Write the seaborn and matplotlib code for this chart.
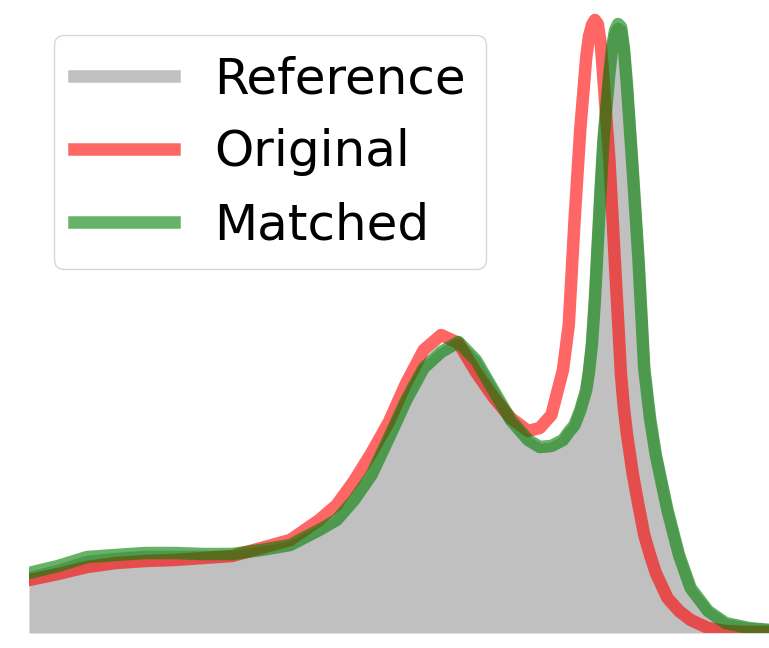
import numpy as np
import pandas as pd
import matplotlib
matplotlib.use("Agg")
import matplotlib.pyplot as plt
import seaborn as sns

# intensity bins and histogram heights
bins = [0, 10, 20, 30, 40, 50, 60, 70, 80, 90, 100, 106, 112, 118, 124, 130, 136, 142,
        148, 154, 160, 166, 172, 176, 180, 184, 186, 188, 190, 192, 193, 194, 195, 196,
        197, 198, 200, 201, 202, 203, 204, 205, 206, 208, 210, 212, 214, 216, 220, 224,
        228, 234, 240, 248, 255]

reference = [55, 62, 71, 74, 76, 76, 76, 76, 80, 85, 100, 110, 130, 155, 192, 230, 262, 278,
             288, 270, 240, 210, 190, 183, 184, 190, 198, 205, 220, 240, 262, 285, 330, 385,
             440, 490, 555, 580, 598, 604, 602, 580, 545, 460, 370, 260, 210, 175, 120, 75,
             42, 20, 8, 4, 3]

original = [53, 59, 66, 70, 72, 73, 75, 77, 85, 93, 113, 128, 152, 180, 211, 250, 283, 298,
            290, 261, 236, 215, 202, 205, 218, 263, 308, 413, 505, 575, 597, 608, 613, 609,
            590, 552, 473, 420, 365, 312, 258, 225, 200, 160, 128, 98, 78, 60, 35, 22,
            13, 5, 2, 1, 1]

matched = [60, 67, 76, 78, 80, 80, 79, 79, 83, 88, 103, 113, 133, 158, 195, 233, 265, 281,
           291, 273, 243, 213, 193, 186, 187, 193, 201, 208, 223, 243, 262, 290, 333, 390,
           445, 495, 560, 587, 603, 609, 606, 585, 550, 465, 375, 265, 215, 178, 123, 78,
           45, 22, 10, 5, 3]

df = pd.DataFrame({"bin": bins, "Reference": reference,
                   "Original": original, "Matched": matched})

sns.set_style("white")
plt.rcParams['font.family'] = ['DejaVu Sans']

fig = plt.figure(figsize=(7.69, 6.48), dpi=100)
ax = fig.add_axes([29 / 769, 15 / 648, 740 / 769, 623 / 648])

line_kws = dict(lw=9, solid_capstyle="projecting", solid_joinstyle="round")
sns.lineplot(data=df, x="bin", y="Reference", color="silver", label="Reference", ax=ax, **line_kws)
ax.fill_between(df["bin"], df["Reference"], color="silver", lw=0)
sns.lineplot(data=df, x="bin", y="Original", color="red", alpha=0.6, label="Original", ax=ax, **line_kws)
sns.lineplot(data=df, x="bin", y="Matched", color="green", alpha=0.6, label="Matched", ax=ax, **line_kws)

ax.set_xlim(0, 255)
ax.set_ylim(0, 623)
ax.set_axis_off()
ax.legend(loc="upper left", fontsize=36, fancybox=True, labelcolor="black")

fig.savefig("out.png", dpi=100)
